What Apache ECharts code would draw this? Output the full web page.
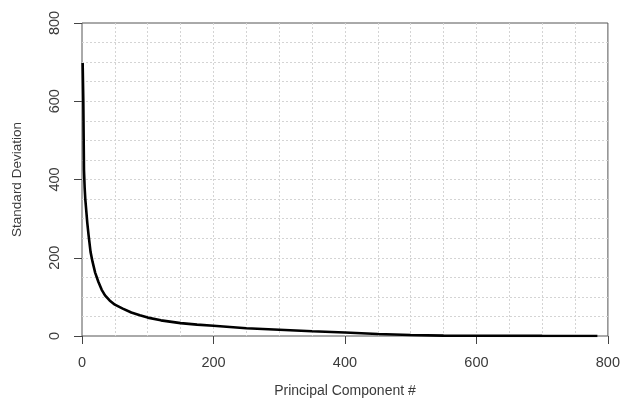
<!DOCTYPE html>
<html style="height: 100%">
<head>
    <meta charset="utf-8">
    <title>Scree plot</title>
</head>
<body style="height: 100%; margin: 0; background: #fff">
<div id="container" style="width: 623px; height: 404px"></div>
<script src="https://cdn.jsdelivr.net/npm/echarts@6/dist/echarts.min.js"></script>
<script>
    // component index and standard deviation
    var componentIdx = [1, 2, 3, 4, 5, 6, 8, 10, 13, 16, 20, 25, 30, 35, 42, 50, 62, 75, 88, 100,
        120, 150, 175, 200, 250, 300, 350, 400, 450, 500, 550, 600, 700, 784];
    var stdDev = [698, 600, 425, 380, 350, 330, 290, 258, 215, 190, 162, 138, 118, 104, 91, 80, 70, 60, 53, 47,
        40, 33, 29, 26, 20, 16, 12, 9, 5, 2.5, 1, 0.5, 0.2, 0.1];
    var xTicks = [0, 800, 200];
    var yTicks = [0, 800, 200];

    var points = componentIdx.map(function (c, i) { return [c, stdDev[i]]; });

    var chart = echarts.init(document.getElementById('container'), null, { renderer: 'canvas' });

    var fontFam = 'Liberation Sans, Arial, sans-serif';
    var labelFont = { color: '#3a3a3a', fontSize: 14.5, fontFamily: fontFam };
    var gridDash = { color: '#d4d4d4', type: [2, 2], width: 1 };

    chart.setOption({
        animation: false,
        grid: {
            left: 82, right: 12, top: 23, bottom: 68,
            show: true, borderColor: '#555', borderWidth: 1
        },
        xAxis: {
            type: 'value',
            min: xTicks[0], max: xTicks[1], interval: xTicks[2],
            name: 'Principal Component #',
            nameLocation: 'middle',
            nameGap: 48,
            nameTextStyle: { color: '#3a3a3a', fontSize: 14, fontFamily: fontFam },
            axisLine: { show: false },
            axisTick: { show: true, length: 8, lineStyle: { color: '#444' } },
            axisLabel: Object.assign({ margin: 19 }, labelFont),
            splitLine: { show: true, showMinLine: false, showMaxLine: false, lineStyle: gridDash },
            minorTick: { show: false, splitNumber: 4 },
            minorSplitLine: { show: true, lineStyle: gridDash }
        },
        yAxis: {
            type: 'value',
            min: yTicks[0], max: yTicks[1], interval: yTicks[2],
            name: 'Standard Deviation',
            nameLocation: 'middle',
            nameGap: 58,
            nameRotate: 90,
            nameTextStyle: { color: '#3a3a3a', fontSize: 13.5, fontFamily: fontFam },
            axisLine: { show: false },
            axisTick: { show: true, length: 8, lineStyle: { color: '#444' } },
            axisLabel: Object.assign({ margin: 20, rotate: 90 }, labelFont),
            splitLine: { show: true, showMinLine: false, showMaxLine: false, lineStyle: gridDash },
            minorTick: { show: false, splitNumber: 4 },
            minorSplitLine: { show: true, lineStyle: gridDash }
        },
        series: [{
            type: 'line',
            data: points,
            showSymbol: false,
            smooth: false,
            lineStyle: { color: '#000', width: 2.6 }
        }]
    });
</script>
</body>
</html>
